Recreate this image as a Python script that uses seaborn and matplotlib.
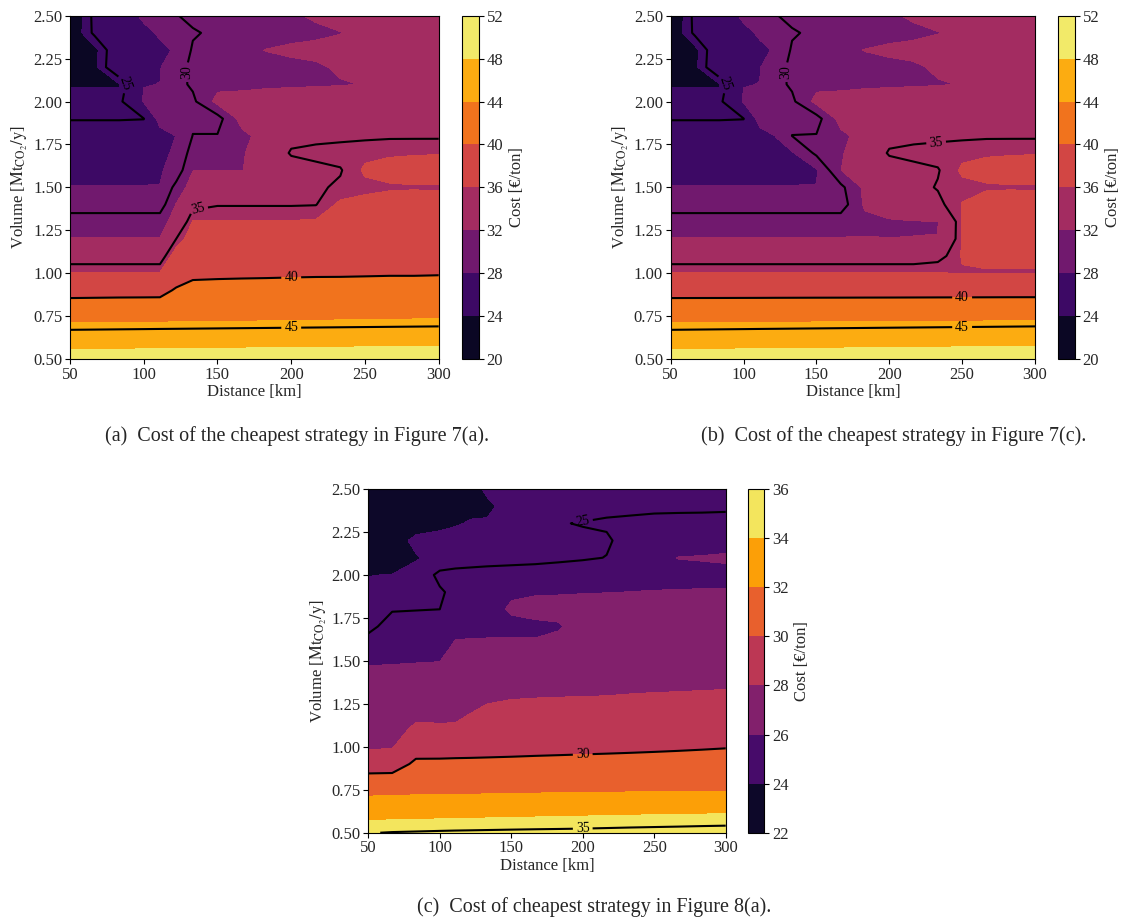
import numpy as np
import matplotlib
matplotlib.use("Agg")
import matplotlib.pyplot as plt
import seaborn as sns

# Grid of the sweep: transport distance (km) and annual CO2 volume (Mt/y)
distance_km = [50, 66.7, 83.3, 100, 111, 122, 133.3, 150, 166.7, 183.3, 200,
               216.7, 233.3, 250, 266.7, 283.3, 300]
volume_mt = [0.5, 0.6, 0.7, 0.8, 0.9, 1.0, 1.1, 1.2, 1.3, 1.4, 1.5,
             1.6, 1.7, 1.8, 1.9, 2.0, 2.1, 2.2, 2.3, 2.4, 2.5]

# Cost of the cheapest strategy (EUR/ton), one row per volume
cost_fig7a = [
    [49.67, 49.70, 49.74, 49.78, 49.80, 49.83, 49.85, 49.89, 49.93, 49.97, 50.01, 50.05, 50.09, 50.13, 50.17, 50.21, 50.25],
    [46.63, 46.67, 46.71, 46.75, 46.78, 46.80, 46.83, 46.87, 46.91, 46.95, 46.99, 47.03, 47.07, 47.11, 47.15, 47.20, 47.25],
    [44.30, 44.33, 44.36, 44.39, 44.41, 44.43, 44.45, 44.48, 44.51, 44.54, 44.57, 44.60, 44.63, 44.66, 44.69, 44.72, 44.75],
    [41.40, 41.50, 41.60, 41.65, 41.70, 41.75, 41.80, 41.90, 42.00, 42.10, 42.20, 42.30, 42.35, 42.40, 42.50, 42.55, 42.60],
    [38.85, 38.85, 38.85, 38.85, 38.85, 40.40, 40.90, 40.95, 41.00, 41.00, 41.05, 41.05, 41.10, 41.10, 41.10, 41.10, 41.10],
    [36.10, 36.10, 36.10, 36.10, 36.10, 38.00, 39.40, 39.50, 39.55, 39.60, 39.65, 39.70, 39.70, 39.75, 39.80, 39.80, 39.85],
    [34.00, 34.00, 34.00, 34.00, 34.00, 37.00, 38.00, 38.00, 38.10, 38.20, 38.30, 38.40, 38.50, 38.50, 38.60, 38.60, 38.60],
    [32.10, 32.10, 32.10, 32.10, 32.10, 35.00, 37.00, 37.00, 37.00, 37.00, 37.10, 37.20, 37.30, 37.40, 37.50, 37.50, 37.50],
    [31.00, 31.00, 31.00, 31.00, 31.00, 33.00, 36.10, 36.10, 36.10, 36.10, 36.10, 36.15, 36.60, 36.70, 36.70, 36.60, 36.60],
    [29.00, 29.00, 29.00, 29.00, 29.00, 32.10, 34.50, 34.90, 34.90, 34.90, 34.90, 34.95, 36.30, 36.40, 36.40, 36.30, 36.20],
    [28.05, 28.05, 28.05, 28.05, 28.05, 30.60, 33.00, 33.60, 33.80, 34.20, 34.50, 34.80, 35.20, 35.70, 35.90, 35.95, 35.95],
    [27.60, 27.60, 27.60, 27.60, 27.80, 28.80, 31.95, 31.95, 31.95, 33.00, 34.00, 34.60, 34.90, 36.20, 36.30, 36.30, 36.30],
    [26.80, 26.80, 26.80, 27.00, 27.70, 28.20, 30.90, 31.30, 31.80, 33.30, 35.20, 35.40, 35.50, 35.70, 35.90, 35.95, 35.97],
    [26.00, 26.00, 26.00, 26.30, 27.00, 28.05, 30.05, 30.10, 31.50, 32.80, 34.40, 34.60, 34.70, 34.75, 34.80, 34.80, 34.80],
    [24.90, 24.90, 24.90, 24.95, 29.00, 29.40, 29.60, 29.20, 32.80, 33.60, 33.80, 33.80, 33.90, 34.00, 34.10, 34.20, 34.30],
    [24.40, 24.40, 24.50, 28.20, 29.00, 29.60, 29.60, 32.60, 33.00, 33.20, 33.30, 33.30, 33.30, 33.30, 33.40, 33.60, 33.90],
    [23.90, 23.90, 23.90, 27.95, 28.02, 29.40, 30.30, 31.50, 31.40, 31.60, 31.70, 31.80, 31.90, 32.05, 32.60, 33.00, 33.60],
    [23.30, 23.70, 26.50, 27.40, 27.90, 29.30, 30.40, 31.00, 31.30, 31.50, 31.60, 31.80, 32.20, 32.70, 33.00, 33.20, 33.40],
    [23.00, 23.60, 26.40, 27.30, 27.70, 28.15, 30.24, 31.00, 31.60, 32.05, 32.30, 32.40, 32.60, 33.00, 33.20, 33.30, 33.30],
    [22.80, 25.30, 26.70, 27.60, 28.20, 29.00, 29.80, 30.40, 30.90, 31.20, 31.50, 31.70, 31.95, 32.30, 32.80, 33.00, 33.10],
    [22.50, 25.40, 27.00, 28.30, 29.00, 29.90, 30.50, 31.00, 31.30, 31.50, 31.80, 32.20, 32.60, 33.00, 33.10, 33.10, 33.00],
]

cost_fig7c = [
    [49.67, 49.70, 49.74, 49.78, 49.80, 49.83, 49.85, 49.89, 49.93, 49.97, 50.01, 50.05, 50.09, 50.13, 50.17, 50.21, 50.25],
    [46.63, 46.67, 46.71, 46.75, 46.78, 46.80, 46.83, 46.87, 46.91, 46.95, 46.99, 47.03, 47.07, 47.11, 47.15, 47.20, 47.25],
    [44.30, 44.33, 44.36, 44.39, 44.41, 44.43, 44.45, 44.48, 44.51, 44.54, 44.57, 44.60, 44.63, 44.66, 44.69, 44.72, 44.75],
    [41.40, 41.41, 41.41, 41.42, 41.42, 41.43, 41.43, 41.44, 41.44, 41.45, 41.45, 41.46, 41.47, 41.47, 41.48, 41.49, 41.50],
    [38.85, 38.86, 38.87, 38.88, 38.89, 38.90, 38.91, 38.92, 38.93, 38.94, 38.95, 38.96, 38.97, 38.98, 38.99, 39.00, 39.00],
    [36.10, 36.10, 36.10, 36.10, 36.10, 36.10, 36.10, 36.10, 36.10, 36.10, 36.10, 36.10, 36.10, 35.90, 35.90, 35.90, 35.90],
    [34.00, 34.00, 34.00, 34.00, 34.00, 34.00, 34.00, 34.00, 34.00, 34.00, 34.00, 34.00, 34.40, 36.10, 36.30, 36.30, 36.30],
    [32.10, 32.10, 32.10, 32.10, 32.10, 32.10, 32.10, 32.10, 32.10, 32.10, 32.02, 32.02, 32.02, 36.10, 36.80, 36.80, 36.80],
    [31.00, 31.00, 31.00, 31.00, 31.00, 31.00, 31.00, 31.00, 31.00, 31.50, 31.70, 31.90, 31.95, 36.05, 36.60, 36.60, 36.60],
    [29.00, 29.00, 29.00, 29.00, 29.00, 29.00, 29.00, 29.00, 29.00, 32.30, 33.50, 34.00, 34.60, 36.05, 36.40, 36.30, 36.20],
    [28.05, 28.05, 28.05, 28.05, 28.05, 28.05, 28.05, 28.05, 29.50, 32.50, 33.80, 34.50, 35.10, 35.70, 35.90, 35.95, 35.95],
    [27.60, 27.60, 27.60, 27.60, 27.60, 27.60, 27.60, 27.80, 31.98, 33.00, 34.00, 34.60, 34.90, 36.20, 36.30, 36.30, 36.30],
    [26.80, 26.80, 26.80, 26.90, 27.00, 27.30, 27.80, 30.40, 31.80, 33.30, 35.20, 35.40, 35.50, 35.70, 35.90, 35.95, 35.97],
    [26.00, 26.00, 26.00, 26.30, 27.00, 28.05, 30.02, 30.10, 31.50, 32.80, 34.40, 34.60, 34.70, 34.75, 34.80, 34.80, 34.80],
    [24.90, 24.90, 24.90, 24.95, 29.00, 29.40, 29.60, 29.20, 32.80, 33.60, 33.80, 33.80, 33.90, 34.00, 34.10, 34.20, 34.30],
    [24.40, 24.40, 24.50, 28.20, 29.00, 29.60, 29.60, 32.60, 33.00, 33.20, 33.30, 33.30, 33.30, 33.30, 33.40, 33.60, 33.90],
    [23.90, 23.90, 23.90, 27.95, 28.02, 29.40, 30.30, 31.50, 31.40, 31.60, 31.70, 31.80, 31.90, 32.05, 32.60, 33.00, 33.60],
    [23.30, 23.70, 26.50, 27.40, 27.90, 29.30, 30.40, 31.00, 31.30, 31.50, 31.60, 31.80, 32.20, 32.70, 33.00, 33.20, 33.40],
    [23.00, 23.60, 26.40, 27.30, 27.70, 28.15, 30.24, 31.00, 31.60, 32.05, 32.30, 32.40, 32.60, 33.00, 33.20, 33.30, 33.30],
    [22.80, 25.30, 26.70, 27.60, 28.20, 29.00, 29.80, 30.40, 30.90, 31.20, 31.50, 31.70, 31.95, 32.30, 32.80, 33.00, 33.10],
    [22.50, 25.40, 27.00, 28.30, 29.00, 29.90, 30.50, 31.00, 31.30, 31.50, 31.80, 32.20, 32.60, 33.00, 33.10, 33.10, 33.00],
]

cost_fig8a = [
    [34.95, 35.05, 35.10, 35.15, 35.18, 35.20, 35.22, 35.25, 35.28, 35.30, 35.33, 35.37, 35.42, 35.46, 35.50, 35.55, 35.59],
    [33.60, 33.65, 33.68, 33.72, 33.74, 33.76, 33.80, 33.85, 33.88, 33.92, 33.95, 34.00, 34.03, 34.06, 34.09, 34.12, 34.15],
    [32.20, 32.22, 32.25, 32.28, 32.30, 32.32, 32.35, 32.40, 32.44, 32.48, 32.52, 32.56, 32.59, 32.62, 32.65, 32.68, 32.71],
    [30.70, 30.72, 31.05, 31.00, 31.00, 31.00, 31.00, 31.00, 31.00, 31.00, 31.00, 31.00, 31.00, 31.00, 31.00, 31.00, 31.00],
    [29.14, 29.20, 30.30, 30.30, 30.32, 30.33, 30.35, 30.37, 30.40, 30.42, 30.44, 30.45, 30.46, 30.47, 30.48, 30.49, 30.50],
    [27.73, 27.90, 29.30, 29.33, 29.37, 29.40, 29.43, 29.49, 29.55, 29.60, 29.65, 29.70, 29.75, 29.80, 29.85, 29.90, 29.95],
    [27.35, 27.40, 28.30, 28.35, 28.40, 28.70, 28.90, 28.95, 29.00, 29.05, 29.10, 29.15, 29.20, 29.25, 29.30, 29.35, 29.40],
    [26.95, 27.00, 27.60, 27.40, 27.40, 27.98, 28.30, 28.45, 28.50, 28.55, 28.60, 28.65, 28.70, 28.72, 28.75, 28.78, 28.80],
    [26.60, 26.65, 26.70, 26.75, 26.80, 27.20, 27.70, 27.85, 27.90, 27.93, 27.95, 27.98, 28.05, 28.10, 28.13, 28.17, 28.20],
    [26.25, 26.30, 26.35, 26.40, 26.45, 26.60, 26.90, 27.10, 27.20, 27.25, 27.30, 27.35, 27.40, 27.45, 27.50, 27.55, 27.60],
    [25.90, 25.92, 25.95, 25.98, 26.50, 26.70, 26.90, 27.00, 27.05, 27.10, 27.15, 27.20, 27.22, 27.25, 27.27, 27.29, 27.30],
    [25.30, 25.35, 25.40, 25.50, 26.10, 26.10, 26.10, 26.10, 26.10, 26.30, 26.80, 26.90, 27.00, 27.00, 27.05, 27.10, 27.10],
    [24.80, 25.30, 25.40, 25.50, 25.70, 25.75, 25.80, 25.80, 25.80, 25.90, 26.50, 26.70, 26.75, 26.80, 26.80, 26.80, 26.80],
    [24.50, 24.95, 24.97, 25.00, 25.30, 25.50, 25.70, 26.10, 26.30, 26.30, 26.40, 26.45, 26.45, 26.45, 26.45, 26.42, 26.40],
    [24.20, 24.40, 24.60, 24.90, 25.20, 25.30, 25.40, 25.90, 25.92, 25.94, 25.96, 25.98, 26.01, 26.03, 26.04, 26.05, 26.06],
    [23.98, 24.02, 24.40, 25.20, 25.30, 25.35, 25.40, 25.45, 25.50, 25.55, 25.60, 25.65, 25.70, 25.75, 25.78, 25.80, 25.80],
    [23.50, 23.55, 23.90, 24.40, 24.50, 24.55, 24.60, 24.65, 24.70, 24.80, 24.90, 25.02, 25.40, 25.70, 26.02, 26.05, 26.10],
    [23.20, 23.40, 24.30, 24.40, 24.45, 24.50, 24.50, 24.55, 24.60, 24.70, 24.80, 24.90, 25.30, 25.50, 25.60, 25.65, 25.70],
    [23.00, 23.10, 23.40, 23.70, 23.90, 24.10, 24.05, 24.50, 24.70, 24.95, 25.05, 25.10, 25.15, 25.20, 25.20, 25.20, 25.20],
    [22.80, 22.90, 23.00, 23.30, 23.50, 23.70, 23.90, 24.20, 24.35, 24.45, 24.55, 24.80, 24.82, 24.85, 24.87, 24.88, 24.90],
    [22.60, 22.70, 22.80, 23.10, 23.40, 23.80, 24.10, 24.30, 24.40, 24.45, 24.50, 24.55, 24.58, 24.60, 24.60, 24.60, 24.60],
]

fill_levels_fig7 = [20, 24, 28, 32, 36, 40, 44, 48, 52]
line_levels_fig7 = [25, 30, 35, 40, 45]
fill_levels_fig8 = [22, 24, 26, 28, 30, 32, 34, 36]
line_levels_fig8 = [25, 30, 35]

captions = [
    "(a)  Cost of the cheapest strategy in Figure 7(a).",
    "(b)  Cost of the cheapest strategy in Figure 7(c).",
    "(c)  Cost of cheapest strategy in Figure 8(a).",
]

sns.set_theme(style="ticks")
plt.rcParams["font.family"] = ["Liberation Serif", "DejaVu Serif"]
plt.rcParams["mathtext.fontset"] = "stix"
plt.rcParams["xtick.direction"] = "out"
plt.rcParams["ytick.direction"] = "out"

cmap = sns.color_palette("inferno", as_cmap=True)

W, H = 1129, 921
fig = plt.figure(figsize=(W / 100, H / 100), dpi=100)


def px_axes(left, top, right, bottom):
    return fig.add_axes([left / W, 1 - bottom / H, (right - left) / W, (bottom - top) / H])


def draw_panel(ax, cax, cost, fill_levels, line_levels, label_pos):
    X, Y = np.meshgrid(distance_km, volume_mt)
    Z = np.array(cost)
    cf = ax.contourf(X, Y, Z, levels=fill_levels, cmap=cmap)
    cs = ax.contour(X, Y, Z, levels=line_levels, colors="black", linewidths=1.5)
    ax.set_xlim(50, 300)
    ax.set_ylim(0.5, 2.5)
    ax.clabel(cs, fmt="%d", fontsize=10, inline=True, inline_spacing=3, manual=label_pos)
    ax.set_xticks([50, 100, 150, 200, 250, 300])
    ax.set_yticks([0.5, 0.75, 1.0, 1.25, 1.5, 1.75, 2.0, 2.25, 2.5])
    ax.set_yticklabels([f"{v:.2f}" for v in ax.get_yticks()])
    ax.tick_params(labelsize=12, length=3.5, width=0.8, color="black", pad=2)
    ax.set_xlabel("Distance [km]", fontsize=12, labelpad=1)
    ax.set_ylabel(r"Volume [$\mathrm{Mt_{CO_2}/y}$]", fontsize=12, labelpad=2)
    for s in ax.spines.values():
        s.set_color("black")
        s.set_linewidth(0.8)
    cb = fig.colorbar(cf, cax=cax, ticks=fill_levels)
    cb.ax.tick_params(labelsize=12, length=3.5, width=0.8, color="black", pad=2)
    cb.set_label("Cost [€/ton]", fontsize=12)
    cb.outline.set_edgecolor("black")
    cb.outline.set_linewidth(0.8)


ax_a = px_axes(70, 15.7, 438.7, 359)
cax_a = px_axes(462.3, 15.7, 479, 359)
ax_b = px_axes(670.7, 15.7, 1035, 359)
cax_b = px_axes(1057.7, 15.7, 1075, 359)
ax_c = px_axes(368.3, 489, 725.7, 832.7)
cax_c = px_axes(747.7, 489, 764.3, 832.7)

draw_panel(ax_a, cax_a, cost_fig7a, fill_levels_fig7, line_levels_fig7,
           [(87, 2.1), (125, 2.17), (137, 1.37), (200, 0.97), (200, 0.68)])
draw_panel(ax_b, cax_b, cost_fig7c, fill_levels_fig7, line_levels_fig7,
           [(87, 2.1), (125, 2.17), (232, 1.775), (250, 0.86), (250, 0.685)])
draw_panel(ax_c, cax_c, cost_fig8a, fill_levels_fig8, line_levels_fig8,
           [(200, 2.32), (200, 0.955), (200, 0.522)])

fig.text(297 / W, 1 - 436 / H, captions[0], ha="center", va="center", fontsize=14.5)
fig.text(894 / W, 1 - 436 / H, captions[1], ha="center", va="center", fontsize=14.5)
fig.text(594 / W, 1 - 907 / H, captions[2], ha="center", va="center", fontsize=14.5)

fig.savefig("out.png", dpi=100)
